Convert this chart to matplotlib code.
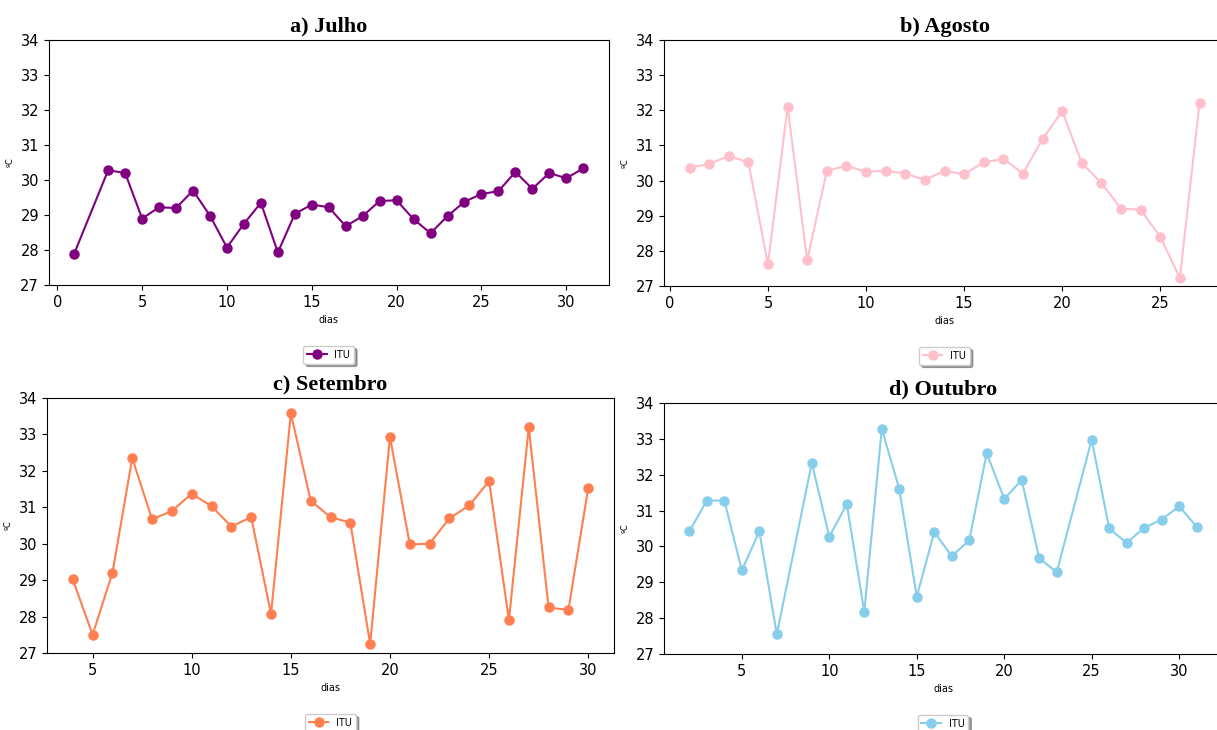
import numpy as np
import matplotlib
matplotlib.use("Agg")
import matplotlib.pyplot as plt

# dados de ITU por dia
dias_jul = [1, 3, 4, 5, 6, 7, 8, 9, 10, 11, 12, 13, 14, 15, 16, 17, 18, 19, 20,
            21, 22, 23, 24, 25, 26, 27, 28, 29, 30, 31]
itu_jul = [27.90, 30.28, 30.20, 28.90, 29.22, 29.20, 29.70, 28.98, 28.07, 28.75,
           29.35, 27.93, 29.03, 29.30, 29.22, 28.68, 28.97, 29.40, 29.42, 28.88,
           28.48, 28.97, 29.38, 29.60, 29.68, 30.23, 29.75, 30.20, 30.05, 30.33]

dias_ago = list(range(1, 28))
itu_ago = [30.37, 30.47, 30.70, 30.52, 27.62, 32.10, 27.73, 30.28, 30.42, 30.25,
           30.28, 30.20, 30.02, 30.28, 30.18, 30.52, 30.62, 30.20, 31.18, 31.98,
           30.50, 29.93, 29.20, 29.17, 28.40, 27.23, 32.20]

dias_set = list(range(4, 31))
itu_set = [29.02, 27.50, 29.20, 32.35, 30.67, 30.90, 31.37, 31.03, 30.47, 30.73,
           28.07, 33.58, 31.18, 30.73, 30.58, 27.25, 32.93, 29.98, 30.00, 30.70,
           31.05, 31.72, 27.90, 33.20, 28.25, 28.18, 31.53]

dias_out = [2, 3, 4, 5, 6, 7, 9, 10, 11, 12, 13, 14, 15, 16, 17, 18, 19, 20, 21,
            22, 23, 25, 26, 27, 28, 29, 30, 31]
itu_out = [30.42, 31.28, 31.28, 29.33, 30.42, 27.55, 32.33, 30.27, 31.18, 28.18,
           33.28, 31.60, 28.60, 30.40, 29.73, 30.17, 32.60, 31.33, 31.85, 29.67,
           29.28, 32.98, 30.50, 30.10, 30.52, 30.75, 31.12, 30.55]

W, H = 1217, 730
fig = plt.figure(figsize=(W / 100, H / 100), dpi=100)


def px_axes(x0, x1, y0, y1):
    # pixel box (top-left origin) -> figure fraction
    return fig.add_axes([x0 / W, (H - y1) / H, (x1 - x0) / W, (y1 - y0) / H])


paineis = [
    ((48.8, 608.7, 40, 285), dias_jul, itu_jul, 'purple', 'a) Julho'),
    ((664, 1225, 40, 286), dias_ago, itu_ago, 'pink', 'b) Agosto'),
    ((47, 614, 398, 653), dias_set, itu_set, 'coral', 'c) Setembro'),
    ((664, 1222, 403, 654), dias_out, itu_out, 'skyblue', 'd) Outubro'),
]

for box, x, y, cor, titulo in paineis:
    ax = px_axes(*box)
    ax.plot(x, y, '-o', color=cor, markersize=6.5, linewidth=1.5, label='ITU')
    ax.set_ylim(27, 34)
    ax.set_yticks(range(27, 35))
    ax.set_xticks([t for t in range(0, 35, 5)])
    ax.set_xlim(min(x) - 0.05 * (max(x) - min(x)), max(x) + 0.05 * (max(x) - min(x)))
    ax.tick_params(labelsize=10.5)
    ax.set_xlabel('dias', fontsize=7)
    ax.set_ylabel('ºC', fontsize=6)
    ax.set_title(titulo, fontsize=16, fontweight='bold', family='Liberation Serif', pad=6)
    altura = box[3] - box[2]
    ax.legend(loc='upper center', bbox_to_anchor=(0.5, -56 / altura), fontsize=7,
              shadow=True, framealpha=1)

fig.savefig('out.png', dpi=100)
